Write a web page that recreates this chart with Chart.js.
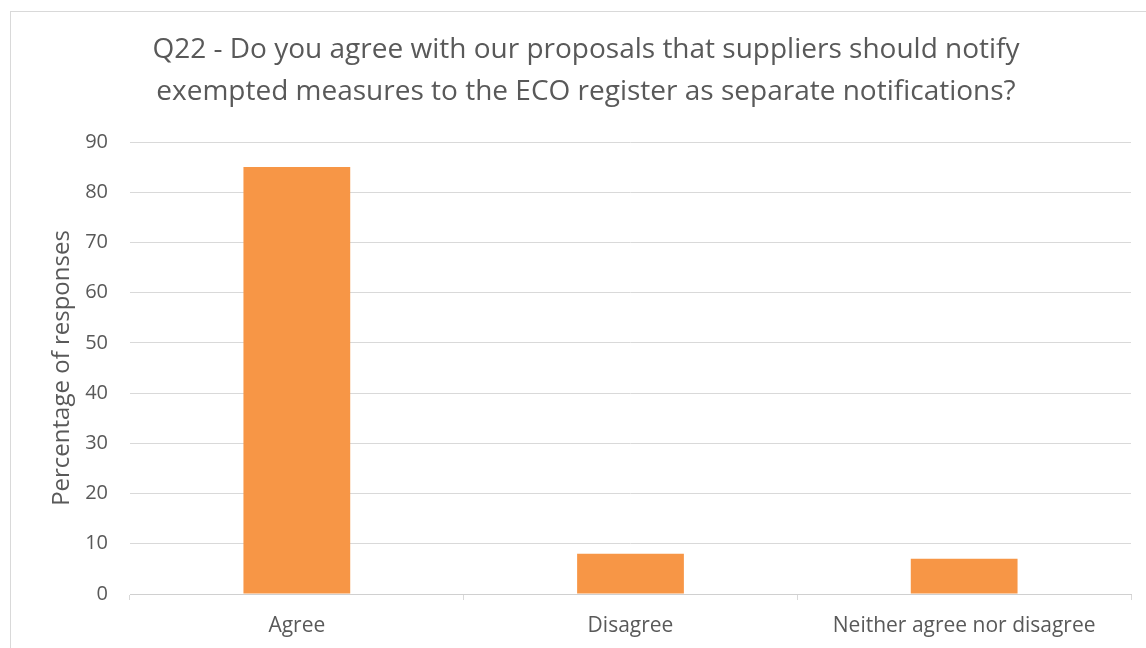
<!DOCTYPE html>
<html>
<head>
<meta charset="utf-8">
<script src="https://cdn.jsdelivr.net/npm/chart.js@4"></script>
<style>
  html, body { margin: 0; padding: 0; background: #fff; overflow: hidden; }
  #wrap { position: absolute; left: 0; top: 0; width: 1146px; height: 648px; }
  #frame { position: absolute; left: 10px; top: 11px; width: 1200px; height: 700px; border: 1px solid #d9d9d9; }
</style>
</head>
<body>
<div id="frame"></div>
<div id="wrap"><canvas id="q22Chart" width="1146" height="648"></canvas></div>
<script>
// Survey answers for Q22
const categories = ['Agree', 'Disagree', 'Neither agree nor disagree'];
const percentages = [85, 8, 7];
const yTicks = [0, 10, 20, 30, 40, 50, 60, 70, 80, 90];

const textGrey = '#595959';
const font = "'Open Sans', sans-serif";

const ctx = document.getElementById('q22Chart').getContext('2d');

const q22Chart = new Chart(ctx, {
    type: 'bar',
    data: {
        labels: categories,
        datasets: [{
            label: 'Percentage of responses',
            data: percentages,
            backgroundColor: '#f79646',
            borderWidth: 0,
            barPercentage: 0.32,
            categoryPercentage: 1
        }]
    },
    options: {
        responsive: false,
        animation: false,
        // left padding shifts the title centre to the right, y axis width makes up the rest
        layout: { padding: { top: 29, right: 15, bottom: 0, left: 41 } },
        plugins: {
            legend: { display: false },
            tooltip: { enabled: false },
            title: {
                display: true,
                text: ['Q22 - Do you agree with our proposals that suppliers should notify',
                       'exempted measures to the ECO register as separate notifications?'],
                color: textGrey,
                font: { family: font, size: 28, weight: 'normal', lineHeight: 1.5 },
                padding: { top: 0, bottom: 29 }
            }
        },
        scales: {
            x: {
                offset: true,
                grid: { offset: true, drawOnChartArea: false, drawTicks: true, tickLength: 6, color: '#d9d9d9' },
                border: { color: '#d0d0d0', width: 1 },
                ticks: { color: textGrey, font: { family: font, size: 21 }, padding: 13 },
                afterFit: (s) => { s.height = 54; }
            },
            y: {
                min: 0,
                max: 90,
                afterBuildTicks: (s) => { s.ticks = yTicks.map(v => ({ value: v })); },
                grid: { color: '#d9d9d9', drawTicks: false },
                border: { display: false },
                ticks: { color: textGrey, font: { family: font, size: 20 }, padding: 22 },
                title: {
                    display: true,
                    text: 'Percentage of responses',
                    color: textGrey,
                    font: { family: font, size: 24 },
                    padding: { top: 7, bottom: 0 }
                },
                afterFit: (s) => { s.width = 89; }
            }
        }
    }
});
</script>
</body>
</html>
